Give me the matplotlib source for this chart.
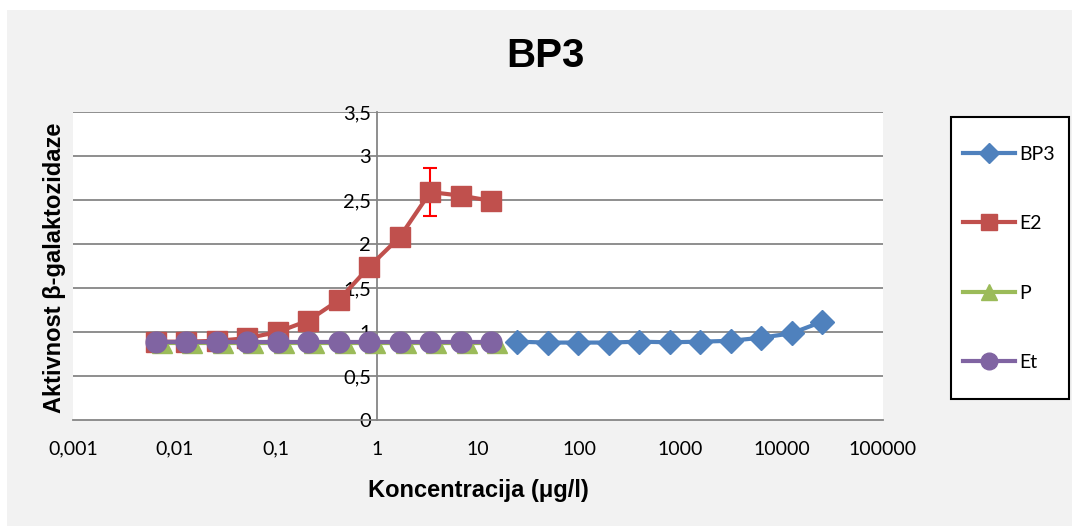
import matplotlib
matplotlib.use("Agg")
import matplotlib.pyplot as plt
from matplotlib.patches import Rectangle
from matplotlib.lines import Line2D

# ---- data ----
bp3_x = [24.4, 48.8, 97.7, 195, 391, 781, 1563, 3125, 6250, 12500, 25000]
bp3_y = [0.89, 0.88, 0.88, 0.88, 0.89, 0.883, 0.89, 0.90, 0.935, 0.985, 1.117]

e2_x = [0.0066, 0.0132, 0.0264, 0.0527, 0.105, 0.211, 0.42, 0.84, 1.69, 3.38, 6.75, 13.5]
e2_y = [0.89, 0.89, 0.90, 0.93, 1.00, 1.13, 1.36, 1.74, 2.08, 2.59, 2.55, 2.49]
e2_err = [0, 0, 0, 0, 0, 0, 0, 0, 0, 0.27, 0, 0]

p_x = [0.0076, 0.0151, 0.0303, 0.0605, 0.121, 0.242, 0.484, 0.968, 1.94, 3.87, 7.75, 15.5]
p_y = [0.88, 0.88, 0.88, 0.88, 0.88, 0.88, 0.88, 0.88, 0.88, 0.88, 0.88, 0.88]

et_x = [0.0066, 0.0132, 0.0264, 0.0527, 0.105, 0.211, 0.42, 0.84, 1.69, 3.38, 6.75, 13.5]
et_y = [0.886, 0.886, 0.886, 0.886, 0.886, 0.886, 0.886, 0.886, 0.886, 0.886, 0.886, 0.886]

x_ticks = [0.001, 0.01, 0.1, 1, 10, 100, 1000, 10000, 100000]
x_tick_labels = ["0,001", "0,01", "0,1", "1", "10", "100", "1000", "10000", "100000"]
y_ticks = [0, 0.5, 1, 1.5, 2, 2.5, 3, 3.5]
y_tick_labels = ["0", "0,5", "1", "1,5", "2", "2,5", "3", "3,5"]

series_names = ["BP3", "E2", "P", "Et"]
colors = ["#4F81BD", "#C0504D", "#9BBB59", "#8064A2"]

W, H = 1072, 526
fig = plt.figure(figsize=(W / 100, H / 100), dpi=100)
fig.patch.set_facecolor("white")
fig.patches.append(Rectangle((7 / W, 0), 1 - 7 / W, 1 - 10 / H, transform=fig.transFigure,
                             facecolor="#F2F2F2", edgecolor="none", zorder=-10))

ax = fig.add_axes([73 / W, 1 - 420 / H, (883 - 73) / W, (420 - 112) / H])
ax.set_facecolor("white")
ax.set_xscale("log")
ax.set_xlim(1e-3, 1e5)
ax.set_ylim(0, 3.5)

grid_c = "#868686"
for yv in y_ticks[1:]:
    ax.axhline(yv, color=grid_c, lw=1.3, zorder=1)

ax.spines["top"].set_visible(False)
ax.spines["right"].set_visible(False)
ax.spines["left"].set_position(("data", 1))
ax.spines["left"].set_color(grid_c)
ax.spines["left"].set_linewidth(1.3)
ax.spines["bottom"].set_color(grid_c)
ax.spines["bottom"].set_linewidth(1.3)

tick_font = "Lato"
ax.set_xticks(x_ticks)
ax.set_xticklabels(x_tick_labels, fontfamily=tick_font, fontsize=14)
ax.xaxis.set_minor_locator(matplotlib.ticker.NullLocator())
ax.set_yticks(y_ticks)
ax.set_yticklabels(y_tick_labels, fontfamily=tick_font, fontsize=14.5)
ax.tick_params(axis="x", length=0, pad=15)
ax.tick_params(axis="y", length=0, pad=4)

lw = 3.0
ax.plot(bp3_x, bp3_y, color=colors[0], lw=lw, marker="D", markersize=12, zorder=3, clip_on=False)
ax.errorbar(e2_x, e2_y, yerr=e2_err, color=colors[1], lw=lw, marker="s", markersize=14,
            ecolor="#FF0000", elinewidth=1.5, capsize=5, capthick=1.5, zorder=4, clip_on=False)
ax.plot(p_x, p_y, color=colors[2], lw=lw, marker="^", markersize=14, zorder=5, clip_on=False)
ax.plot(et_x, et_y, color=colors[3], lw=lw, marker="o", markersize=15, zorder=6, clip_on=False)

ax.set_xlabel("Koncentracija (μg/l)", fontfamily="Liberation Sans", fontweight="bold",
              fontsize=17, labelpad=15)
fig.text(54 / W, 1 - 268 / H, "Aktivnost β-galaktozidaze", rotation=90, ha="center", va="center",
         fontfamily="Liberation Sans", fontweight="bold", fontsize=17)
fig.text(545 / W, 1 - 56 / H, "BP3", ha="center", va="center",
         fontfamily="Liberation Sans", fontweight="bold", fontsize=29)

# legend box
fig.patches.append(Rectangle((951 / W, 1 - 399 / H), (1069 - 951) / W, (399 - 117) / H,
                             transform=fig.transFigure, facecolor="white", edgecolor="black",
                             lw=1.5, zorder=5))
handles = [
    Line2D([], [], color=colors[0], lw=lw, marker="D", markersize=10),
    Line2D([], [], color=colors[1], lw=lw, marker="s", markersize=11),
    Line2D([], [], color=colors[2], lw=lw, marker="^", markersize=11),
    Line2D([], [], color=colors[3], lw=lw, marker="o", markersize=12),
]
leg = fig.legend(handles, series_names, loc="upper left", bbox_to_anchor=(953 / W, 1 - 136 / H),
                 frameon=False, prop={"family": tick_font, "size": 14}, handlelength=2.7,
                 handletextpad=0.2, labelspacing=2.7, borderpad=0, numpoints=1)
leg.set_zorder(6)

fig.savefig("out.png", dpi=100, facecolor="white")
